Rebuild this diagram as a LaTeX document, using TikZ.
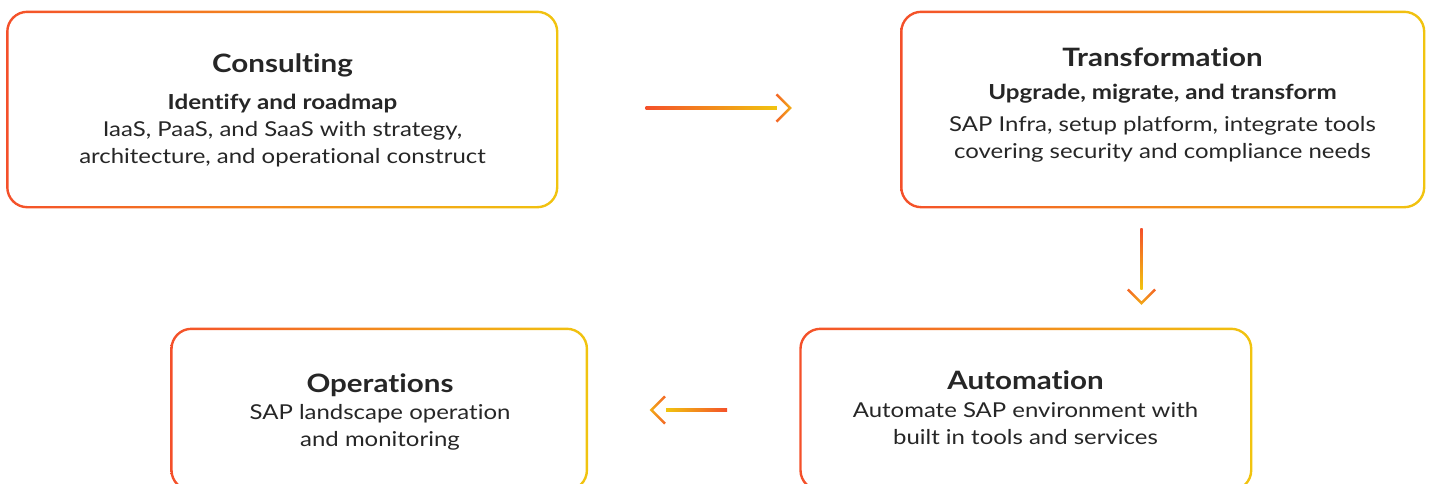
\documentclass[tikz,border=0pt]{standalone}
\usepackage{fontspec}
\setmainfont{Lato}[FakeStretch=1.168, Ligatures=NoCommon]
\usetikzlibrary{calc}

\definecolor{cRed}{HTML}{F4502A}
\definecolor{cOrange}{HTML}{F39020}
\definecolor{cYellow}{HTML}{F1C40F}
\definecolor{txtgray}{HTML}{262626}

\newcommand{\stagetitle}[1]{{\fontsize{25.3}{27}\selectfont\bfseries #1}}
\newcommand{\stagesub}[1]{{\fontsize{20.7}{27}\selectfont\bfseries #1}}

\begin{document}
\begin{tikzpicture}[x=1pt,y=-1pt,
        stagebox/.style={draw=none, inner sep=0pt},
        stagetext/.style={align=center, inner sep=0pt, text=txtgray,
            font=\fontsize{20.5}{27}\selectfont}]
        % Page frame
        \useasboundingbox (0,0) rectangle (1431,483);
        \clip (0,0) rectangle (1431,483);

        % Define the four boxes
        \node[stagebox, minimum width=549.5pt, minimum height=195pt] (cons) at (282.25,109.5) {};
        \node[stagebox, minimum width=522.5pt, minimum height=195pt] (trans) at (1162.75,109.5) {};
        \node[stagebox, minimum width=450.3pt, minimum height=161pt] (auto) at (1025.85,409.5) {};
        \node[stagebox, minimum width=415pt, minimum height=161pt] (oper) at (379.2,409.5) {};

        % Gradient borders, red on the left to yellow on the right
        \shade[left color=cRed, right color=cYellow, even odd rule]
            [rounded corners=21.2pt] ([shift={(-1.2,1.2)}]cons.south west) rectangle ([shift={(1.2,-1.2)}]cons.north east)
            [rounded corners=18.8pt] ([shift={(1.2,-1.2)}]cons.south west) rectangle ([shift={(-1.2,1.2)}]cons.north east);
        \shade[left color=cRed, right color=cYellow, even odd rule]
            [rounded corners=21.2pt] ([shift={(-1.2,1.2)}]trans.south west) rectangle ([shift={(1.2,-1.2)}]trans.north east)
            [rounded corners=18.8pt] ([shift={(1.2,-1.2)}]trans.south west) rectangle ([shift={(-1.2,1.2)}]trans.north east);
        \shade[left color=cRed, right color=cYellow, even odd rule]
            [rounded corners=21.2pt] ([shift={(-1.2,1.2)}]auto.south west) rectangle ([shift={(1.2,-1.2)}]auto.north east)
            [rounded corners=18.8pt] ([shift={(1.2,-1.2)}]auto.south west) rectangle ([shift={(-1.2,1.2)}]auto.north east);
        \shade[left color=cRed, right color=cYellow, even odd rule]
            [rounded corners=21.2pt] ([shift={(-1.2,1.2)}]oper.south west) rectangle ([shift={(1.2,-1.2)}]oper.north east)
            [rounded corners=18.8pt] ([shift={(1.2,-1.2)}]oper.south west) rectangle ([shift={(-1.2,1.2)}]oper.north east);

        % Box texts
        \node[stagetext] (consT) at (282.5,110) {\stagetitle{Consulting}\\[10pt]
            \stagesub{Identify and roadmap}\\
            IaaS, PaaS, and SaaS with strategy,\\
            architecture, and operational construct};
        \node[stagetext] (transT) at (1162.5,105) {\stagetitle{Transformation}\\[6pt]
            \stagesub{Upgrade, migrate, and transform}\\[5pt]
            SAP Infra, setup platform, integrate tools\\
            covering security and compliance needs};
        \node[stagetext] (autoT) at (1025.5,407.5) {\stagetitle{Automation}\\[1pt]
            Automate SAP environment with\\
            built in tools and services};
        \node[stagetext] (operT) at (380,411.5) {\stagetitle{Operations}\\
            SAP landscape operation\\
            and monitoring};

        % Arrow ends
        \coordinate (a1s) at ($(cons.east)+(88.5,-1.5)$);
        \coordinate (a1e) at ($(trans.west)+(-109.5,-1.5)$);
        \coordinate (a2s) at ($(trans.south)+(-21.25,21)$);
        \coordinate (a2e) at ($(auto.north)+(115.65,-24)$);
        \coordinate (a3s) at ($(auto.west)+(-73.3,0.5)$);
        \coordinate (a3e) at ($(oper.east)+(62.8,0.5)$);

        % Consulting to Transformation
        \shade[left color=cRed, right color=cYellow] ($(a1s)+(0,-1.15)$) rectangle ($(a1e)+(-15,1.15)$);
        \shade[left color=cRed!70!cOrange, right color=cOrange!40!cYellow, shift={(a1e)}]
            (0,0) -- (-14.5,-14.5) -- (-16.2,-12.8) -- (-3.4,0) -- (-16.2,12.8) -- (-14.5,14.5) -- cycle;
        % Transformation to Automation
        \shade[top color=cRed, bottom color=cYellow] ($(a2s)+(-1.15,0)$) rectangle ($(a2e)+(1.15,-15.5)$);
        \shade[top color=cRed!70!cOrange, bottom color=cOrange!40!cYellow, shift={(a2e)}, rotate=-90]
            (0,0) -- (-14.5,-14.5) -- (-16.2,-12.8) -- (-3.4,0) -- (-16.2,12.8) -- (-14.5,14.5) -- cycle;
        % Automation to Operations
        \shade[left color=cYellow, right color=cRed] ($(a3e)+(16.5,-1.15)$) rectangle ($(a3s)+(0,1.15)$);
        \shade[left color=cOrange!40!cYellow, right color=cRed!70!cOrange, shift={(a3e)}, rotate=180]
            (0,0) -- (-14.5,-14.5) -- (-16.2,-12.8) -- (-3.4,0) -- (-16.2,12.8) -- (-14.5,14.5) -- cycle;
\end{tikzpicture}
\end{document}
